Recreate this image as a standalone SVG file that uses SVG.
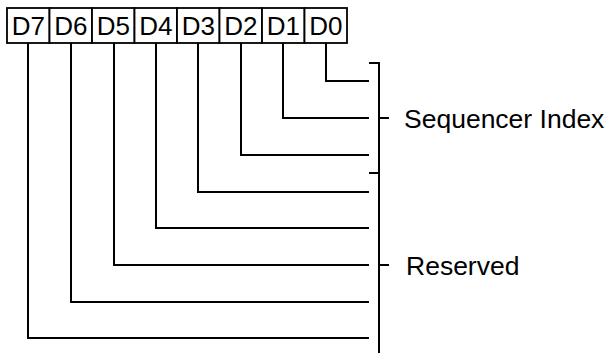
<svg xmlns="http://www.w3.org/2000/svg" width="610" height="354" viewBox="0 0 610 354">
<style>
.box{fill:#fff;stroke:#000;stroke-width:1.8}
.bt{font-family:"Liberation Sans",Arial,sans-serif;font-size:26px;fill:#000;text-anchor:middle}
.lbl{font-family:"Liberation Sans",Arial,sans-serif;font-size:26.5px;fill:#000}
.ln{fill:none;stroke:#000;stroke-width:2;stroke-linecap:square}
</style>
<rect width="610" height="354" fill="#fff"/>
<g id="register">
<g id="D7"><rect class="box" x="7" y="8" width="42.5" height="35"/><text class="bt" x="28.25" y="35">D7</text></g>
<g id="D6"><rect class="box" x="49.5" y="8" width="42.5" height="35"/><text class="bt" x="70.75" y="35">D6</text></g>
<g id="D5"><rect class="box" x="92" y="8" width="42.5" height="35"/><text class="bt" x="113.25" y="35">D5</text></g>
<g id="D4"><rect class="box" x="134.5" y="8" width="42.5" height="35"/><text class="bt" x="155.75" y="35">D4</text></g>
<g id="D3"><rect class="box" x="177" y="8" width="42.5" height="35"/><text class="bt" x="198.25" y="35">D3</text></g>
<g id="D2"><rect class="box" x="219.5" y="8" width="42.5" height="35"/><text class="bt" x="240.75" y="35">D2</text></g>
<g id="D1"><rect class="box" x="262" y="8" width="42.5" height="35"/><text class="bt" x="283.25" y="35">D1</text></g>
<g id="D0"><rect class="box" x="304.5" y="8" width="42.5" height="35"/><text class="bt" x="325.75" y="35">D0</text></g>
</g>
<g id="connectors">
<path class="ln" d="M326 44 V81 H368"/>
<path class="ln" d="M283 44 V118 H368"/>
<path class="ln" d="M241 44 V155 H368"/>
<path class="ln" d="M198 44 V192 H368"/>
<path class="ln" d="M156 44 V228 H368"/>
<path class="ln" d="M114 44 V265 H368"/>
<path class="ln" d="M71 44 V302 H368"/>
<path class="ln" d="M28 44 V338 H368"/>
</g>
<g id="brackets">
<path class="ln" d="M370 63 H379 V352"/>
<path class="ln" d="M370 173 H379"/>
<path class="ln" d="M379 118 H388"/>
<path class="ln" d="M379 265 H388"/>
</g>
<g id="labels">
<text class="lbl" x="404" y="128">Sequencer Index</text>
<text class="lbl" x="406" y="275">Reserved</text>
</g>
</svg>
